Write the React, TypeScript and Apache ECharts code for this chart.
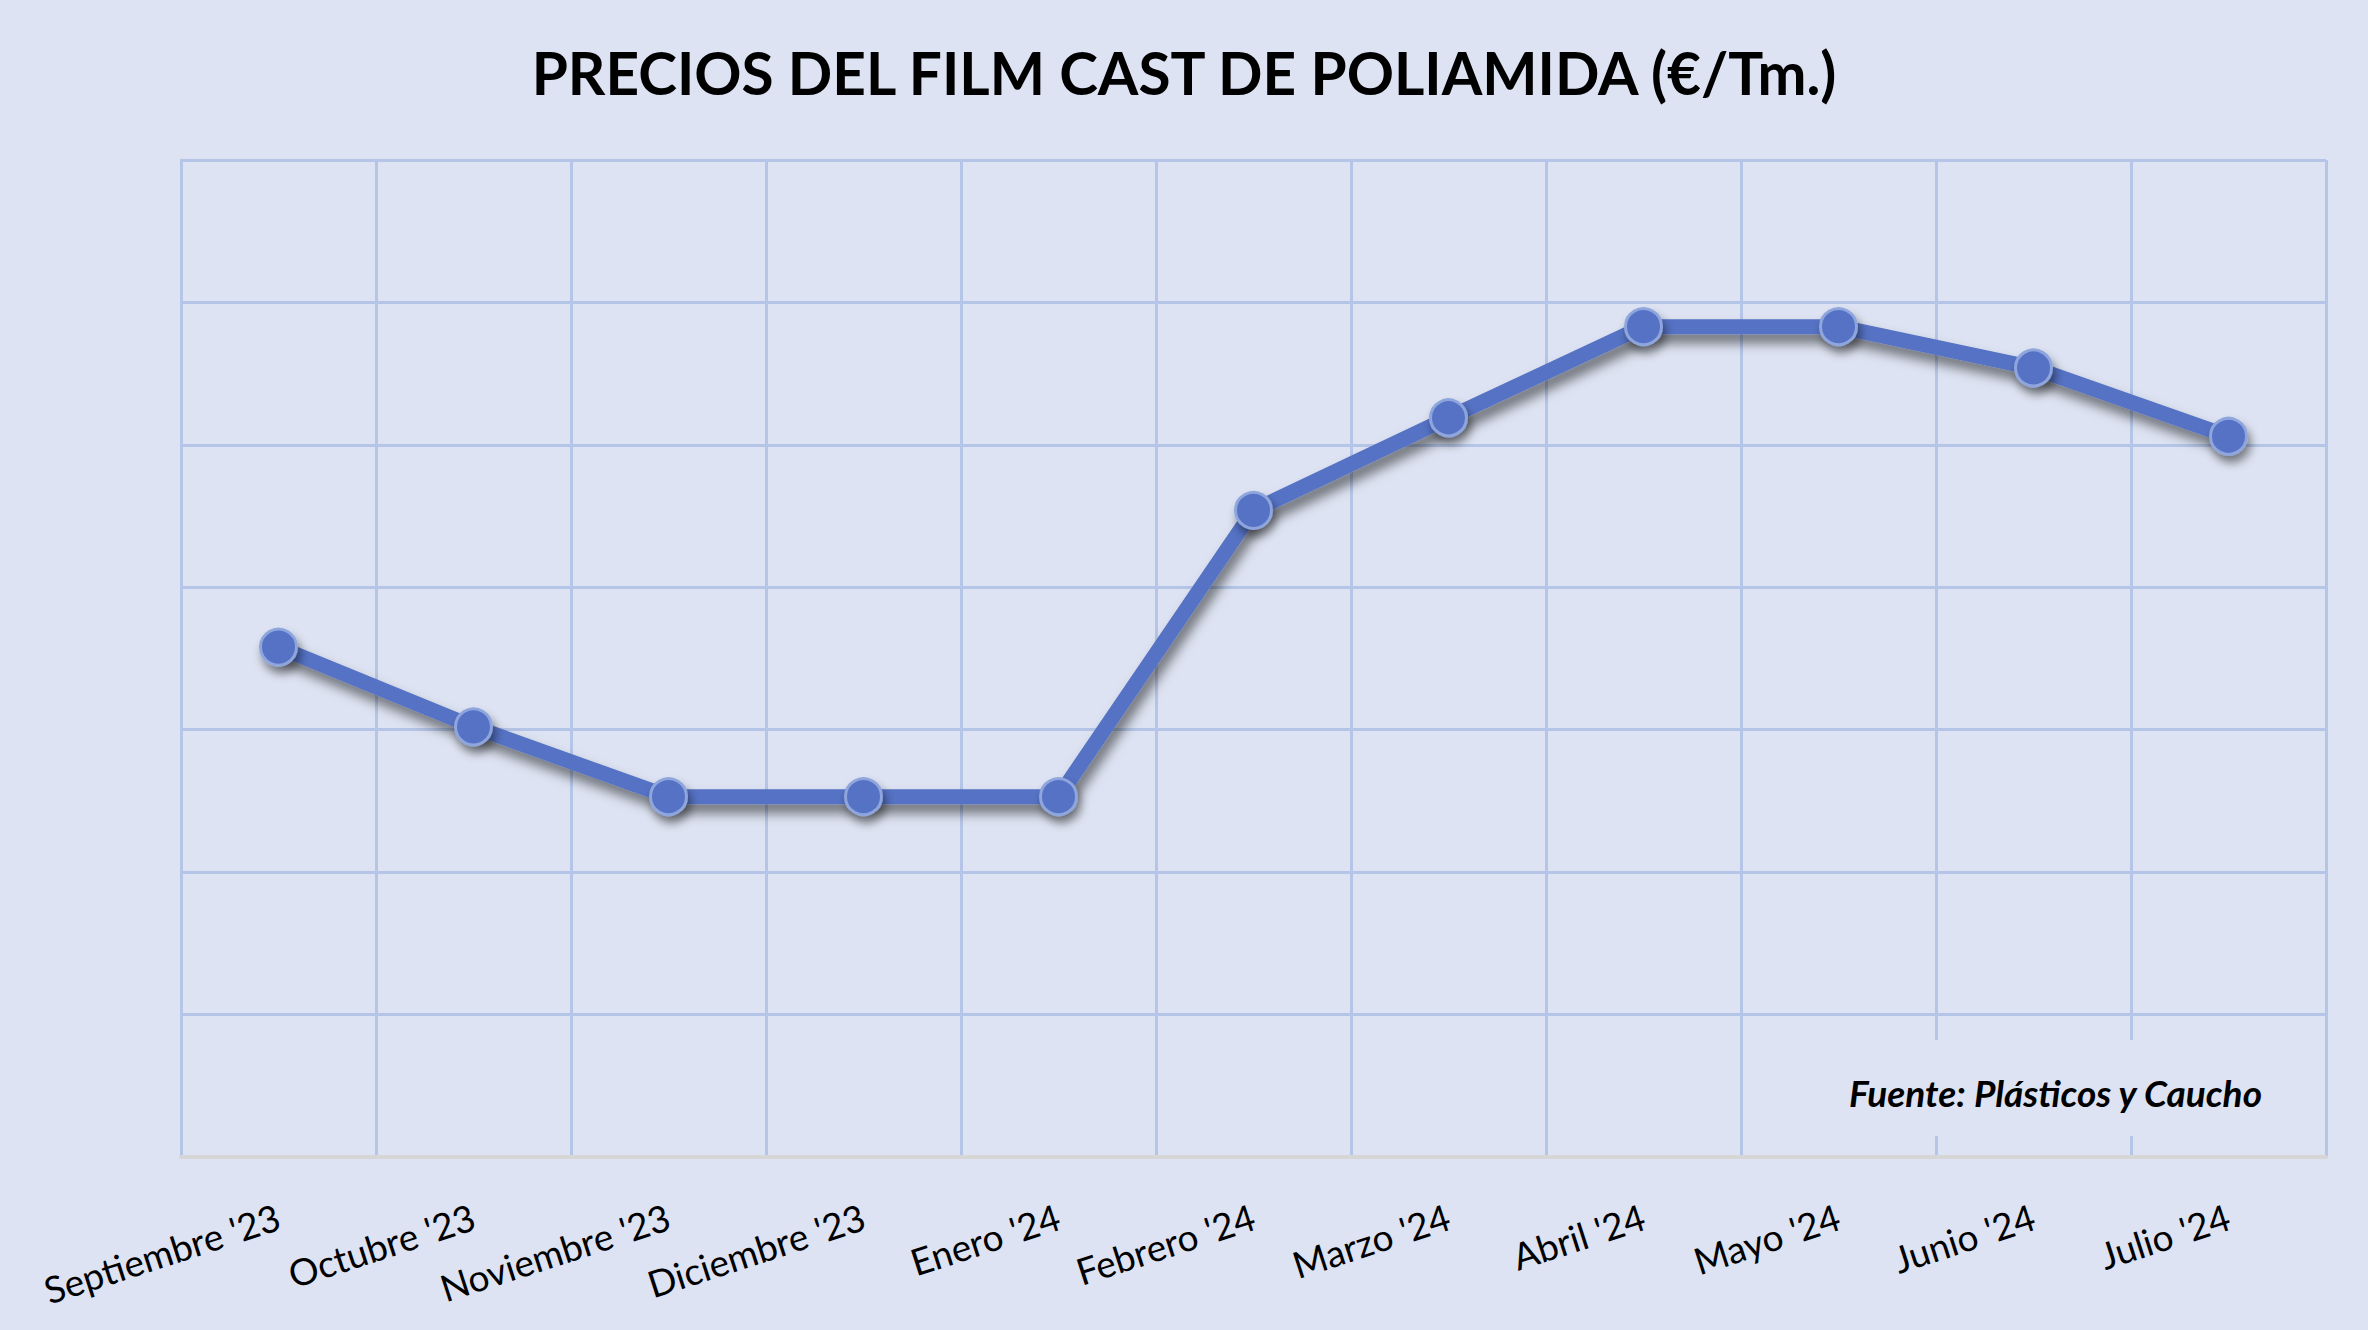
import React, { useEffect, useRef } from "react";
import * as echarts from "echarts";

const categories = [
  "Septiembre '23",
  "Octubre '23",
  "Noviembre '23",
  "Diciembre '23",
  "Enero '24",
  "Febrero '24",
  "Marzo '24",
  "Abril '24",
  "Mayo '24",
  "Junio '24",
  "Julio '24",
];

const prices = [3.58, 3.02, 2.53, 2.53, 2.53, 4.54, 5.19, 5.83, 5.83, 5.54, 5.06];

const yMin = 0;
const yMax = 7;
const yInterval = 1;

const titleText = "PRECIOS DEL FILM CAST DE POLIAMIDA (€/Tm.)";
const sourceText = "Fuente: Plásticos y Caucho";

const BG = "#dde3f2";
const GRID = "#b4c5e7";
const LINE = "#5572c4";

export default function App() {
  const ref = useRef<HTMLDivElement>(null);

  useEffect(() => {
    document.body.style.margin = "0";
    document.body.style.background = BG;
    if (!ref.current) return;
    const chart = echarts.init(ref.current, undefined, { renderer: "svg" });
    chart.setOption({
      animation: false,
      backgroundColor: BG,
      title: {
        text: titleText,
        left: "center",
        top: 37,
        textStyle: {
          fontFamily: "Lato",
          fontWeight: "bold",
          fontSize: 58.5,
          color: "#000",
        },
      },
      grid: { left: 181, right: 42, top: 160, bottom: 173, containLabel: false },
      xAxis: {
        type: "category",
        data: categories,
        boundaryGap: true,
        axisLine: { show: true, lineStyle: { color: "#d6d6d6", width: 4 } },
        axisTick: { show: false },
        splitLine: { show: true, interval: 0, lineStyle: { color: GRID, width: 3 } },
        axisLabel: {
          interval: 0,
          rotate: 18,
          margin: 58,
          fontFamily: "Lato",
          fontSize: 37,
          color: "#000",
        },
        z: 1,
      },
      yAxis: {
        type: "value",
        min: yMin,
        max: yMax,
        interval: yInterval,
        axisLine: { show: true, lineStyle: { color: GRID, width: 3 } },
        axisTick: { show: false },
        axisLabel: { show: false },
        splitLine: { show: true, lineStyle: { color: GRID, width: 3 } },
      },
      series: [
        {
          type: "line",
          data: prices,
          symbol: "circle",
          symbolSize: 36,
          lineStyle: {
            color: LINE,
            width: 15,
            shadowColor: "rgba(0,0,0,0.5)",
            shadowBlur: 12,
            shadowOffsetX: 4,
            shadowOffsetY: 9,
          },
          itemStyle: {
            color: LINE,
            borderColor: "#8ea5dd",
            borderWidth: 3,
            shadowColor: "rgba(0,0,0,0.45)",
            shadowBlur: 10,
            shadowOffsetX: 3,
            shadowOffsetY: 7,
          },
          z: 5,
        },
      ],
      graphic: [
        {
          type: "rect",
          z: 50,
          shape: { x: 1825, y: 1040, width: 460, height: 96 },
          style: { fill: BG },
        },
        {
          type: "text",
          z: 51,
          x: 2262,
          y: 1092,
          style: {
            text: sourceText,
            align: "right",
            verticalAlign: "middle",
            fontFamily: "Lato",
            fontWeight: "bold",
            fontStyle: "italic",
            fontSize: 37,
            fill: "#000",
          },
        },
      ],
    });
    return () => chart.dispose();
  }, []);

  return <div ref={ref} style={{ width: 2368, height: 1330 }} />;
}
